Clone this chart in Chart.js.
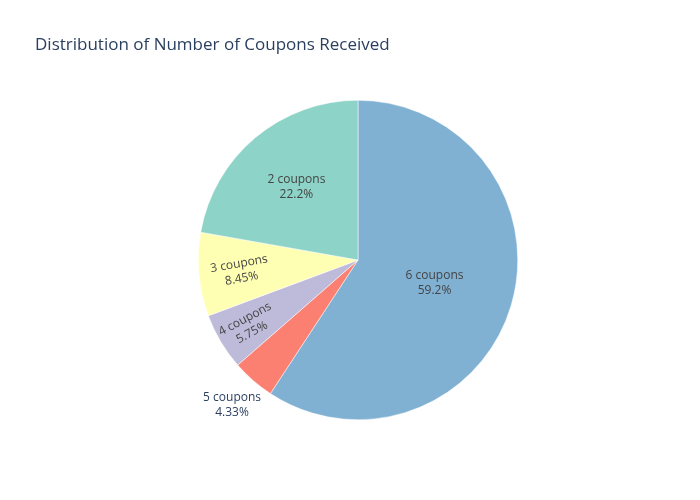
<!DOCTYPE html>
<html><head><meta charset="utf-8">
<script src="https://cdn.jsdelivr.net/npm/chart.js@4"></script>
<style>html,body{margin:0;padding:0;background:#fff}#w{width:700px;height:500px}</style>
</head><body><div id="w"><canvas id="c"></canvas></div>
<script>
const categories = ["6 coupons","5 coupons","4 coupons","3 coupons","2 coupons"];
const percents = [59.2, 4.33, 5.75, 8.45, 22.2];
const pctLabels = ["59.2%","4.33%","5.75%","8.45%","22.2%"];
const colors = ["#80b1d3","#fb8072","#bebada","#ffffb3","#8dd3c7"];
const labelRadius = [0.5, 1.2, 0.8, 0.74, 0.6];
const labelRotation = [0, 0, -28, -10, 0];

const labelPlugin = {
  id:'lbl',
  afterDraw(chart){
    const ctx = chart.ctx;
    ctx.save();
    ctx.font = '17px "Open Sans", sans-serif';
    ctx.fillStyle = '#2a3f5f';
    ctx.textAlign='left'; ctx.textBaseline='middle';
    ctx.fillText('Distribution of Number of Coupons Received', 35, 45);
    const meta = chart.getDatasetMeta(0);
    meta.data.forEach((arc,i)=>{
      const mid = (arc.startAngle+arc.endAngle)/2;
      const r = arc.outerRadius*labelRadius[i];
      const x = arc.x + Math.cos(mid)*r, y = arc.y + Math.sin(mid)*r;
      ctx.save();
      ctx.translate(x,y);
      ctx.rotate(labelRotation[i]*Math.PI/180);
      ctx.font = '12px "Open Sans", sans-serif';
      ctx.fillStyle = labelRadius[i] > 1 ? '#2a3f5f' : '#444';
      ctx.textAlign='center';
      ctx.fillText(categories[i], 0, -7);
      ctx.fillText(pctLabels[i], 0, 8);
      ctx.restore();
    });
    ctx.restore();
  }
};

new Chart(document.getElementById('c'), {
  type:'pie',
  data:{labels:categories, datasets:[{data:percents, backgroundColor:colors, borderColor:'#ffffff', borderWidth:0.5}]},
  options:{
    responsive:true, maintainAspectRatio:false, animation:false,
    layout:{padding:{top:100,bottom:80,left:198,right:182}},
    plugins:{legend:{display:false}, title:{display:false}, tooltip:{enabled:false}}
  },
  plugins:[labelPlugin]
});
</script></body></html>
